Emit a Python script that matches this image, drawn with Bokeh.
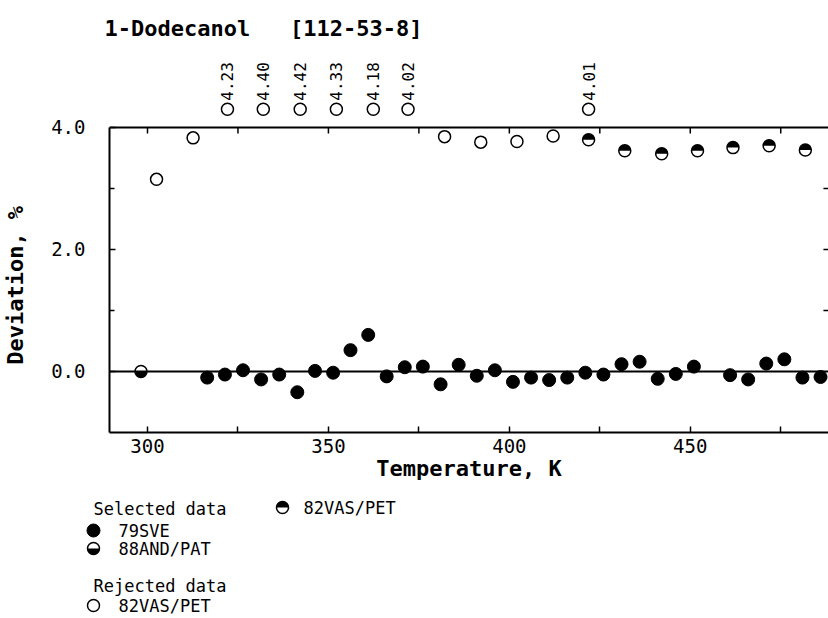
import numpy as np
from bokeh.plotting import figure
from bokeh.layouts import column, row
from bokeh.models import Span, FixedTicker, PrintfTickFormatter, ColumnDataSource
from bokeh.core.properties import value
from bokeh.embed import file_html
from bokeh.resources import INLINE

# ---------------- data ----------------
sve_T = [316.5, 321.4, 326.4, 331.4, 336.4, 341.4, 346.3, 351.3, 356.1, 361.0,
         366.1, 371.1, 376.1, 381.0, 386.0, 391.0, 396.0, 401.0, 406.0, 411.0,
         416.0, 421.0, 426.0, 431.0, 436.0, 441.0, 446.0, 451.0, 461.0, 466.0,
         471.0, 476.0, 481.0, 486.0]
sve_dev = [-0.10, -0.05, 0.02, -0.13, -0.05, -0.34, 0.01, -0.02, 0.35, 0.60,
           -0.08, 0.07, 0.08, -0.21, 0.11, -0.07, 0.02, -0.17, -0.10, -0.14,
           -0.10, -0.02, -0.05, 0.12, 0.16, -0.12, -0.04, 0.08, -0.06, -0.13,
           0.13, 0.20, -0.10, -0.09]

and_T = [298.2]
and_dev = [0.0]

vas_sel_T = [421.9, 431.9, 442.1, 452.0, 461.8, 471.8, 481.8]
vas_sel_dev = [3.80, 3.62, 3.57, 3.62, 3.67, 3.70, 3.63]

vas_rej_T = [302.5, 312.6, 382.1, 392.1, 402.1, 412.1]
vas_rej_dev = [3.15, 3.83, 3.85, 3.76, 3.77, 3.86]

# rejected points that lie above the scale (value printed next to marker)
vas_off_T = [322.1, 332.0, 342.2, 352.2, 362.4, 372.0, 421.9]
vas_off_dev = [4.23, 4.40, 4.42, 4.33, 4.18, 4.02, 4.01]

x_ticks = [300, 350, 400, 450]
x_minor = [325, 375, 425, 475]
y_ticks = [0, 2, 4]
y_minor = [1, 3]

NB = "\u00a0"
title_text = "1-Dodecanol" + NB * 3 + "[112-53-8]"
x_label = "Temperature, K"
y_label = "Deviation, %"

legend_selected = ["79SVE", "88AND/PAT", "82VAS/PET"]
legend_rejected = ["82VAS/PET"]

# ---------------- styling ----------------
FONT = "DejaVu Sans Mono"
X_START, X_END = 289.5, 488.2
Y_TOP = 4.0          # top of the deviation scale
OFF_ROW = 4.30       # row where off-scale points are marked
OFF_TEXT = 4.44      # start of the rotated value labels
BLACK = "black"

p = figure(width=828, height=488, x_range=(X_START, X_END), y_range=(-1.0, 5.344),
           output_backend="svg", toolbar_location=None,
           min_border_left=108, min_border_right=0, min_border_top=45,
           min_border_bottom=56)
p.grid.visible = False
p.outline_line_color = None
p.background_fill_color = "white"

p.title.text = title_text
p.title.text_font = FONT
p.title.text_font_size = "22px"
p.title.text_font_style = "bold"
p.title.text_color = BLACK
p.title.align = "left"
p.title.offset = -5

xa = p.xaxis[0]
xa.ticker = FixedTicker(ticks=x_ticks, minor_ticks=x_minor)
xa.axis_line_width = 2
xa.major_tick_in = 6
xa.major_tick_out = 0
xa.minor_tick_in = 6
xa.minor_tick_out = 0
xa.major_tick_line_width = 1.5
xa.minor_tick_line_width = 1.5
xa.major_label_text_font = FONT
xa.major_label_text_font_size = "19px"
xa.major_label_text_color = BLACK
xa.major_label_standoff = 6
xa.axis_label = x_label
xa.axis_label_text_font = FONT
xa.axis_label_text_font_size = "22px"
xa.axis_label_text_font_style = "bold"
xa.axis_label_text_color = BLACK
xa.axis_label_standoff = 0

ya = p.yaxis[0]
ya.bounds = (-1, Y_TOP)
ya.ticker = FixedTicker(ticks=y_ticks, minor_ticks=y_minor)
ya.formatter = PrintfTickFormatter(format="%.1f")
ya.axis_line_width = 2
ya.major_tick_in = 6
ya.major_tick_out = 0
ya.minor_tick_in = 5
ya.minor_tick_out = 0
ya.major_tick_line_width = 1.5
ya.minor_tick_line_width = 1.5
ya.major_label_text_font = FONT
ya.major_label_text_font_size = "19px"
ya.major_label_text_color = BLACK
ya.major_label_standoff = 24
# trailing non-breaking spaces keep the label centred on the -1..4 scale
ya.axis_label = y_label + NB * 7
ya.axis_label_text_font = FONT
ya.axis_label_text_font_size = "22px"
ya.axis_label_text_font_style = "bold"
ya.axis_label_text_color = BLACK
ya.axis_label_standoff = 20

# top border of the scale and its ticks
p.add_layout(Span(location=Y_TOP, dimension="width", line_color=BLACK, line_width=2))
all_x_ticks = sorted(x_ticks + x_minor)
p.segment(x0=all_x_ticks, y0=[Y_TOP] * len(all_x_ticks), x1=all_x_ticks,
          y1=[Y_TOP - 0.1] * len(all_x_ticks), line_color=BLACK, line_width=1.5)
# small ticks on the (cut-off) right border
right_ticks = sorted(y_minor + [2])
p.segment(x0=[X_END] * len(right_ticks), y0=right_ticks,
          x1=[X_END - 1.4] * len(right_ticks), y1=right_ticks,
          line_color=BLACK, line_width=1.5)

# zero line
p.add_layout(Span(location=0, dimension="width", line_color=BLACK, line_width=2))

R = 6  # marker radius in px


def half_filled(fig, xs, ys, upper):
    fig.scatter(xs, ys, marker="circle", size=2 * R, fill_color="white",
                line_color=BLACK, line_width=1.5)
    if upper:
        fig.wedge(xs, ys, radius=R, radius_units="screen", start_angle=0,
                  end_angle=np.pi, fill_color=BLACK, line_color=None)
    else:
        fig.wedge(xs, ys, radius=R, radius_units="screen", start_angle=-np.pi,
                  end_angle=0, fill_color=BLACK, line_color=None)


def filled(fig, xs, ys):
    fig.scatter(xs, ys, marker="circle", size=2 * R + 1, fill_color=BLACK,
                line_color=BLACK)


def open_(fig, xs, ys):
    fig.scatter(xs, ys, marker="circle", size=2 * R, fill_color="white",
                line_color=BLACK, line_width=1.5)


filled(p, sve_T, sve_dev)                     # 79SVE
half_filled(p, and_T, and_dev, upper=False)   # 88AND/PAT
half_filled(p, vas_sel_T, vas_sel_dev, upper=True)  # 82VAS/PET selected
open_(p, vas_rej_T, vas_rej_dev)              # 82VAS/PET rejected

# off-scale rejected points
off_src = ColumnDataSource(dict(
    x=vas_off_T,
    row=[OFF_ROW] * len(vas_off_T),
    trow=[OFF_TEXT] * len(vas_off_T),
    lab=["%.2f" % v for v in vas_off_dev],
))
p.scatter("x", "row", source=off_src, marker="circle", size=2 * R, fill_color="white",
          line_color=BLACK, line_width=1.5)
p.text("x", "trow", text="lab", source=off_src, angle=np.pi / 2, text_align="left",
       text_baseline="middle", text_font=value(FONT), text_font_size="16px",
       text_color=BLACK)

# ---------------- legend block (pixel coordinates, y up) ----------------
leg = figure(width=828, height=130, x_range=(0, 828), y_range=(0, 130),
             output_backend="svg", toolbar_location=None,
             x_axis_location=None, y_axis_location=None,
             min_border_left=0, min_border_right=0, min_border_top=0, min_border_bottom=0)
leg.grid.visible = False
leg.outline_line_color = None

SX, TX = 93, 118          # symbol centre / text start, first column
SX2, TX2 = 282, 303       # second column
head_kw = dict(text_font=value(FONT), text_font_size="17px", text_align="left",
               text_baseline="middle", text_color=BLACK)
leg.text(x=[SX, SX], y=[110, 33], text=["Selected data", "Rejected data"], **head_kw)
leg.text(x=[TX, TX, TX2, TX], y=[88, 70, 111, 13],
         text=legend_selected + legend_rejected, **head_kw)
filled(leg, [SX], [88])
half_filled(leg, [SX], [70], upper=False)
half_filled(leg, [SX2], [111], upper=True)
open_(leg, [SX], [13])

layout = column(p, row(leg, spacing=0), spacing=0)
open("out.html", "w").write(file_html(layout, INLINE))
